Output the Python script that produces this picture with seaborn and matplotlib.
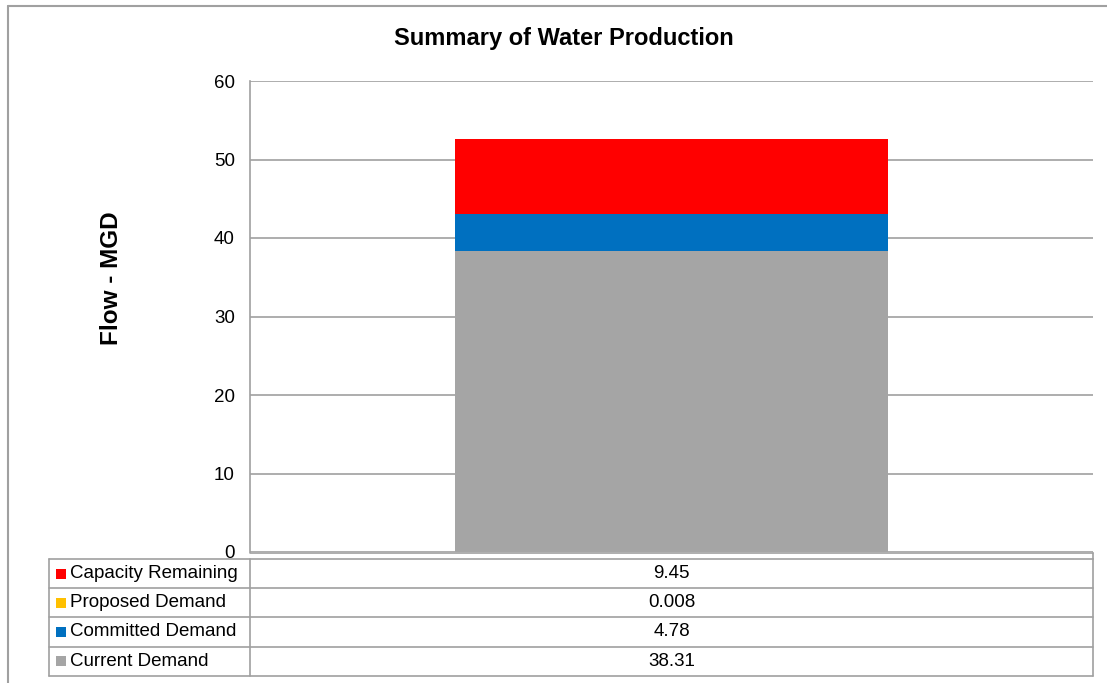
import matplotlib
matplotlib.use("Agg")
import matplotlib.pyplot as plt
import seaborn as sns
from matplotlib.lines import Line2D
from matplotlib.patches import Rectangle

# data (stack order bottom -> top)
series = ["Current Demand", "Committed Demand", "Proposed Demand", "Capacity Remaining"]
values = [38.31, 4.78, 0.008, 9.45]
labels = ["38.31", "4.78", "0.008", "9.45"]
colors = ["#A5A5A5", "#0070C0", "#FFC000", "#FF0000"]
yticks = [0, 10, 20, 30, 40, 50, 60]

sns.set_theme(style="white")
plt.rcParams['font.family'] = ['Liberation Sans', 'DejaVu Sans']
plt.rcParams['text.color'] = 'black'

W, H = 1107, 683
fig = plt.figure(figsize=(W / 100, H / 100), dpi=100)

def fx(px):
    return px / W

def fy(py):
    return 1 - py / H

# plot area
ax = fig.add_axes([fx(250), fy(552), fx(1093) - fx(250), fy(81) - fy(552)])

bottom = 0
for s, v, c in zip(series, values, colors):
    sns.barplot(x=["x"], y=[v], color=c, width=0.514, bottom=bottom, ax=ax,
                saturation=1, linewidth=0, zorder=3)
    bottom += v

ax.set_ylim(0, 60)
ax.set_xlim(-0.5, 0.5)
ax.set_yticks(yticks)
ax.set_yticklabels([str(t) for t in yticks], fontsize=13.5, color="black")
ax.set_xticks([])
ax.tick_params(axis="y", length=0, pad=11)
ax.yaxis.grid(True, color="#A0A0A0", linewidth=1.2, zorder=0)
for sp in ["top", "right", "bottom"]:
    ax.spines[sp].set_visible(False)
ax.spines["left"].set_color("#A0A0A0")
ax.spines["left"].set_linewidth(1.2)
ax.set_ylabel("")
ax.set_xlabel("")

fig.text(fx(112), fy(278), "Flow - MGD", rotation=90, fontsize=17.5, fontweight="bold",
         ha="center", va="center")
fig.text(fx(564), fy(38), "Summary of Water Production", fontsize=17, fontweight="bold",
         ha="center", va="center")

# outer chart border (left and top)
lc = "#A0A0A0"
fig.add_artist(Line2D([fx(8), fx(8)], [fy(6), 0], color=lc, lw=1.5))
fig.add_artist(Line2D([fx(8), 1], [fy(6), fy(6)], color=lc, lw=1.5))

# data table below the plot
tab_top, row_h = 559, 29.2
x0, x1, x2 = 49, 250, 1093
fig.add_artist(Line2D([fx(x1), fx(x2)], [fy(553), fy(553)], color=lc, lw=1.2))
fig.add_artist(Line2D([fx(x2), fx(x2)], [fy(553), fy(tab_top)], color=lc, lw=1.2))
rows = list(zip(series, labels, colors))[::-1]
n = len(rows)
for i in range(n + 1):
    y = tab_top + i * row_h
    fig.add_artist(Line2D([fx(x0), fx(x2)], [fy(y), fy(y)], color=lc, lw=1.2))
for x in (x0, x1, x2):
    fig.add_artist(Line2D([fx(x), fx(x)], [fy(tab_top), fy(tab_top + n * row_h)], color=lc, lw=1.2))
for i, (s, lab, c) in enumerate(rows):
    yc = tab_top + (i + 0.5) * row_h
    fig.add_artist(Rectangle((fx(56), fy(yc + 5)), fx(10), fy(yc - 5) - fy(yc + 5),
                             facecolor=c, edgecolor="none"))
    fig.text(fx(70), fy(yc), s, fontsize=13.5, ha="left", va="center")
    fig.text(fx((x1 + x2) / 2), fy(yc), lab, fontsize=13.5, ha="center", va="center")

fig.savefig("out.png", dpi=100, facecolor="white")
